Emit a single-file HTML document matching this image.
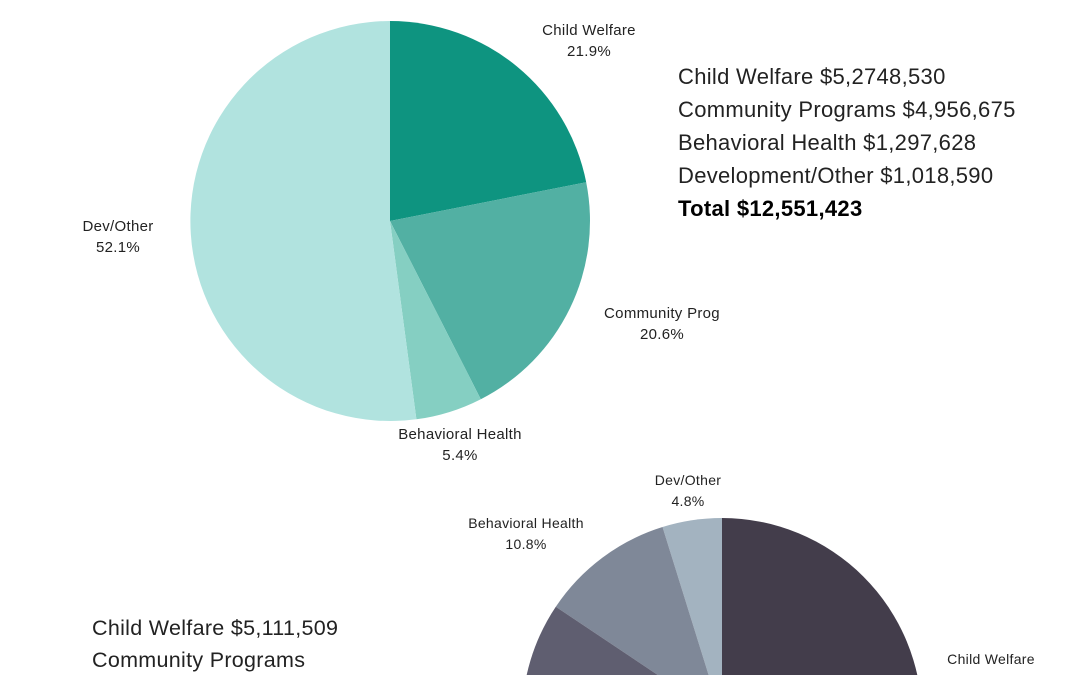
<!DOCTYPE html>
<html><head><style>
html,body{margin:0;padding:0;background:#fff;overflow:hidden;}
body{width:1080px;height:675px;overflow:hidden;position:relative;font-family:"Liberation Sans",sans-serif;}
.t{position:absolute;font-size:22px;line-height:24px;color:#222;letter-spacing:0.3px;white-space:nowrap;}
</style></head><body>
<svg width="1080" height="675" style="position:absolute;left:0;top:0" font-family="Liberation Sans, sans-serif">
<path d="M390,221 L390,21 A200,200 0 0 1 586.2,182.2 Z" fill="#0e9480"/>
<path d="M390,221 L586.2,182.2 A200,200 0 0 1 480.8,399.2 Z" fill="#52b0a3"/>
<path d="M390,221 L480.8,399.2 A200,200 0 0 1 416.4,419.3 Z" fill="#85cfc2"/>
<path d="M390,221 L416.4,419.3 A200,200 0 1 1 390,21 Z" fill="#b1e3df"/>
<g font-size="15" fill="#222" text-anchor="middle" letter-spacing="0.3">
<text x="589" y="35">Child Welfare</text><text x="589" y="56">21.9%</text>
<text x="662" y="318">Community Prog</text><text x="662" y="339">20.6%</text>
<text x="460" y="439">Behavioral Health</text><text x="460" y="460">5.4%</text>
<text x="118" y="231">Dev/Other</text><text x="118" y="252">52.1%</text>
</g>
<path d="M722,718 L722,518 A200,200 0 0 1 922,718 L922,900 L722,900 Z" fill="#433d4b"/>
<path d="M722,718 L722,518 A200,200 0 0 0 662.5,527 Z" fill="#a3b3c0"/>
<path d="M722,718 L662.5,527 A200,200 0 0 0 555.8,606.7 Z" fill="#7f8898"/>
<path d="M722,718 L555.8,606.7 A200,200 0 0 0 522,718 L722,718 Z" fill="#5f5e70"/>
<g font-size="14" fill="#222" text-anchor="middle" letter-spacing="0.3">
<text x="688" y="485">Dev/Other</text><text x="688" y="506">4.8%</text>
<text x="526" y="528">Behavioral Health</text><text x="526" y="549">10.8%</text>
<text x="991" y="664">Child Welfare</text>
</g>
</svg>
<div class="t" style="left:678px;top:65px">Child Welfare $5,2748,530</div>
<div class="t" style="left:678px;top:98px">Community Programs $4,956,675</div>
<div class="t" style="left:678px;top:131px">Behavioral Health $1,297,628</div>
<div class="t" style="left:678px;top:164px">Development/Other $1,018,590</div>
<div class="t" style="left:678px;top:197px;font-weight:bold;color:#000">Total $12,551,423</div>
<div class="t" style="left:92px;top:616px;font-size:21.5px">Child Welfare $5,111,509</div>
<div class="t" style="left:92px;top:649px;font-size:21.5px;line-height:22px">Community Programs</div>
</body></html>
